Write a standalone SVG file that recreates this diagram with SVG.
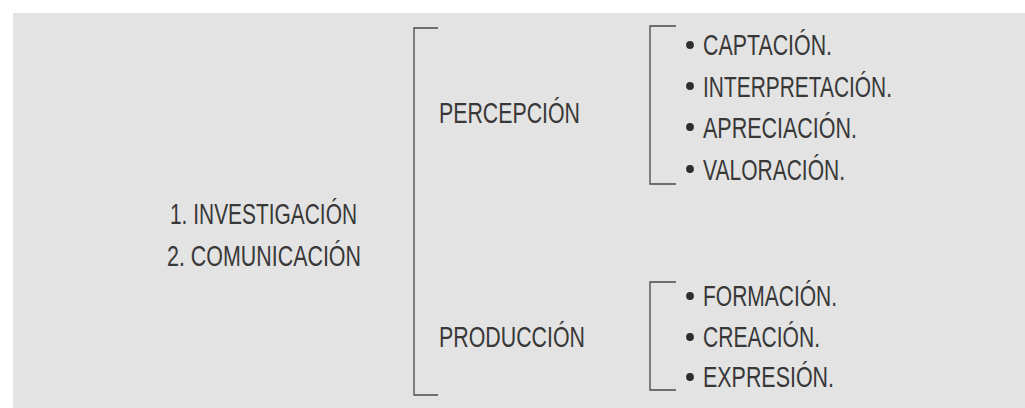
<svg xmlns="http://www.w3.org/2000/svg" width="1025" height="408" viewBox="0 0 1025 408">
<style>
.t{font-family:"Liberation Sans",Arial,sans-serif;font-size:29px;fill:#383838}
.br{fill:none;stroke:#4a4a4a;stroke-width:1.3}
.dot{fill:#2e2e2e}
</style>
<rect x="0" y="0" width="1025" height="408" fill="#ffffff"/>
<rect x="13" y="13" width="1012" height="395" fill="#e3e3e3"/>
<g id="connectors">
<path class="br" d="M438,28 H414 V395 H438"/>
<path class="br" d="M676,26 H650 V184 H676"/>
<path class="br" d="M676,282 H650 V390 H676"/>
</g>
<g id="root">
<text class="t" x="170" y="224" textLength="187" lengthAdjust="spacingAndGlyphs">1. INVESTIGACIÓN</text>
<text class="t" x="167" y="266" textLength="194" lengthAdjust="spacingAndGlyphs">2. COMUNICACIÓN</text>
</g>
<g id="percepcion">
<text class="t" x="439" y="123" textLength="141" lengthAdjust="spacingAndGlyphs">PERCEPCIÓN</text>
</g>
<g id="produccion">
<text class="t" x="439" y="347" textLength="146" lengthAdjust="spacingAndGlyphs">PRODUCCIÓN</text>
</g>
<g id="captacion">
<circle class="dot" cx="690" cy="45" r="3.9"/>
<text class="t" x="703" y="55" textLength="129" lengthAdjust="spacingAndGlyphs">CAPTACIÓN.</text>
</g>
<g id="interpretacion">
<circle class="dot" cx="690" cy="86" r="3.9"/>
<text class="t" x="703" y="97" textLength="189" lengthAdjust="spacingAndGlyphs">INTERPRETACIÓN.</text>
</g>
<g id="apreciacion">
<circle class="dot" cx="690" cy="127" r="3.9"/>
<text class="t" x="703" y="138" textLength="154" lengthAdjust="spacingAndGlyphs">APRECIACIÓN.</text>
</g>
<g id="valoracion">
<circle class="dot" cx="690" cy="169" r="3.9"/>
<text class="t" x="703" y="180" textLength="142" lengthAdjust="spacingAndGlyphs">VALORACIÓN.</text>
</g>
<g id="formacion">
<circle class="dot" cx="690" cy="296" r="3.9"/>
<text class="t" x="703" y="306" textLength="134" lengthAdjust="spacingAndGlyphs">FORMACIÓN.</text>
</g>
<g id="creacion">
<circle class="dot" cx="690" cy="337" r="3.9"/>
<text class="t" x="703" y="347" textLength="117" lengthAdjust="spacingAndGlyphs">CREACIÓN.</text>
</g>
<g id="expresion">
<circle class="dot" cx="690" cy="377" r="3.9"/>
<text class="t" x="703" y="387" textLength="131" lengthAdjust="spacingAndGlyphs">EXPRESIÓN.</text>
</g>
</svg>
